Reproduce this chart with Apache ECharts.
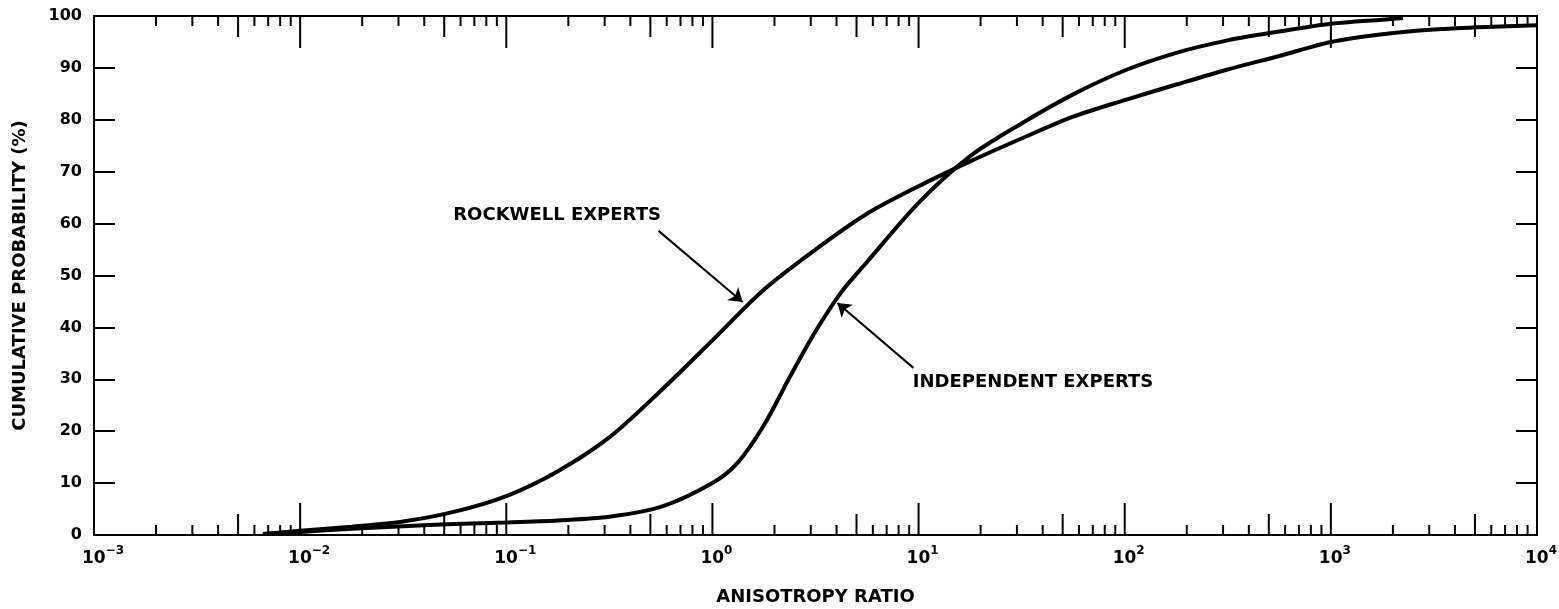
<!DOCTYPE html>
<html>
<head>
<meta charset="utf-8">
<script src="https://cdn.jsdelivr.net/npm/echarts@6/dist/echarts.min.js"></script>
<style>
html,body{margin:0;padding:0;background:#fff;}
#chart{width:1559px;height:609px;}
</style>
</head>
<body>
<div id="chart"></div>
<script>
// ---- data (anisotropy ratio, cumulative probability %) ----
const rockwellX = [0.0066, 0.01, 0.0178, 0.0316, 0.0562, 0.1, 0.178, 0.316, 0.562, 1, 1.78, 3.16, 5.62, 10, 17.8, 31.6, 56.2, 100, 178, 316, 562, 1000, 1780, 3160, 5620, 10000];
const rockwellY = [0.2, 0.8, 1.6, 2.6, 4.5, 7.5, 12.3, 18.8, 27.8, 37.5, 47.3, 55.0, 61.9, 67.2, 72.0, 76.4, 80.6, 83.8, 86.8, 89.7, 92.3, 95.0, 96.5, 97.4, 97.9, 98.2];

const independentX = [0.0066, 0.01, 0.0178, 0.0316, 0.0562, 0.1, 0.178, 0.316, 0.562, 1, 1.33, 1.78, 2.37, 3.16, 4.22, 5.62, 10, 17.8, 31.6, 56.2, 100, 178, 316, 562, 1000, 1780, 2240];
const independentY = [0.2, 0.6, 1.2, 1.7, 2.1, 2.4, 2.8, 3.5, 5.4, 10.0, 14.0, 21.2, 30.4, 39.2, 46.8, 52.6, 64.0, 73.0, 79.3, 84.9, 89.5, 92.9, 95.3, 97.0, 98.5, 99.3, 99.6];

// axis ticks
const xDecades = [-3, -2, -1, 0, 1, 2, 3, 4];
const xMinorMultipliers = [2, 3, 4, 5, 6, 7, 8, 9];
const yTicks = [0, 10, 20, 30, 40, 50, 60, 70, 80, 90, 100];

// annotations
const rockwellLabel = ['ROCKWELL EXPERTS', 0.055, 61.5];
const rockwellArrow = [[0.548, 58.6], [1.40, 44.9]];
const independentLabel = ['INDEPENDENT EXPERTS', 9.33, 29.5];
const independentArrow = [[9.44, 32.2], [4.04, 44.7]];

const FONT = 'DejaVu Sans';

const rockwell = rockwellX.map((x, i) => [x, rockwellY[i]]);
const independent = independentX.map((x, i) => [x, independentY[i]]);

// tick list: [value, kind] kind 2 = decade, 1 = five, 0 = other
const tickData = [];
xDecades.forEach(d => {
  tickData.push([Math.pow(10, d), 2]);
  if (d < 4) xMinorMultipliers.forEach(m => tickData.push([m * Math.pow(10, d), m === 5 ? 1 : 0]));
});

const chart = echarts.init(document.getElementById('chart'), null, {renderer: 'canvas'});

const labelStyle = {color: '#000', fontFamily: FONT, fontWeight: 'bold', fontSize: 18};

chart.setOption({
  animation: false,
  backgroundColor: '#fff',
  grid: {left: 94, right: 22, top: 16, bottom: 74, containLabel: false, outerBoundsMode: 'none',
    show: true, borderColor: '#000', borderWidth: 2, backgroundColor: 'transparent'},
  xAxis: {
    type: 'log', logBase: 10, min: 0.001, max: 10000, splitNumber: 7,
    name: 'ANISOTROPY RATIO', nameLocation: 'middle', nameGap: 53, nameMoveOverlap: false,
    nameTextStyle: {color: '#000', fontFamily: FONT, fontWeight: 'bold', fontSize: 18},
    axisLine: {show: true, onZero: false, lineStyle: {color: '#000', width: 2}},
    axisTick: {show: false},
    splitLine: {show: false},
    axisLabel: {
      margin: 10,
      formatter: v => {
        const e = Math.round(Math.log10(v));
        return (e < 0 ? '{p2|}' : '{p1|}') + '{b|10}{s|' + (e < 0 ? '\u2212' + (-e) : e) + '}';
      },
      rich: {
        p1: {width: 8, lineHeight: 22},
        p2: {width: 18, lineHeight: 22},
        b: {fontSize: 17, fontWeight: 'bold', fontFamily: FONT, color: '#000', lineHeight: 22, verticalAlign: 'bottom'},
        s: {fontSize: 12, fontWeight: 'bold', fontFamily: FONT, color: '#000', lineHeight: 13, verticalAlign: 'top'}
      }
    }
  },
  yAxis: [{
    type: 'value', min: 0, max: 100, interval: 10,
    name: 'CUMULATIVE PROBABILITY (%)', nameLocation: 'middle', nameGap: 65, nameMoveOverlap: false,
    nameTextStyle: {color: '#000', fontFamily: FONT, fontWeight: 'bold', fontSize: 18},
    axisLine: {show: true, lineStyle: {color: '#000', width: 2}},
    axisTick: {show: true, inside: true, length: 21, lineStyle: {color: '#000', width: 2}},
    splitLine: {show: false},
    axisLabel: {margin: 12, color: '#000', fontFamily: FONT, fontWeight: 'bold', fontSize: 16,
      formatter: v => yTicks.indexOf(v) >= 0 ? String(v) : ''}
  }, {
    type: 'value', min: 0, max: 100, interval: 10, position: 'right',
    axisLine: {show: true, lineStyle: {color: '#000', width: 2}},
    axisTick: {show: true, inside: true, length: 21, lineStyle: {color: '#000', width: 2}},
    splitLine: {show: false},
    axisLabel: {show: false}
  }],
  series: [
    {
      type: 'custom', name: 'ticks', clip: false, silent: true,
      data: tickData,
      encode: {x: 0},
      renderItem: (params, api) => {
        const v = api.value(0), kind = api.value(1);
        const b = api.coord([v, 0]), t = api.coord([v, 100]);
        const len = kind === 2 ? 32 : (kind === 1 ? 21 : 10);
        return {type: 'group', children: [
          {type: 'line', shape: {x1: b[0], y1: b[1], x2: b[0], y2: b[1] - len}, style: {stroke: '#000', lineWidth: 2}},
          {type: 'line', shape: {x1: t[0], y1: t[1], x2: t[0], y2: t[1] + len}, style: {stroke: '#000', lineWidth: 2}}
        ]};
      }
    },
    {
      type: 'line', name: 'Rockwell Experts', data: rockwell, smooth: 0.3, symbol: 'none',
      lineStyle: {color: '#000', width: 4}, silent: true,
      markLine: {
        silent: true, symbol: ['none', 'arrow'], symbolSize: 13,
        lineStyle: {color: '#000', width: 2, type: 'solid'}, label: {show: false},
        emphasis: {disabled: true},
        data: [[{coord: rockwellArrow[0]}, {coord: rockwellArrow[1]}]]
      },
      markPoint: {
        silent: true, symbol: 'circle', symbolSize: 1, itemStyle: {color: 'rgba(0,0,0,0)'},
        label: Object.assign({show: true, position: 'right', distance: 0, formatter: rockwellLabel[0]}, labelStyle),
        data: [{coord: [rockwellLabel[1], rockwellLabel[2]]}]
      }
    },
    {
      type: 'line', name: 'Independent Experts', data: independent, smooth: 0.3, symbol: 'none',
      lineStyle: {color: '#000', width: 4}, silent: true,
      markLine: {
        silent: true, symbol: ['none', 'arrow'], symbolSize: 13,
        lineStyle: {color: '#000', width: 2, type: 'solid'}, label: {show: false},
        emphasis: {disabled: true},
        data: [[{coord: independentArrow[0]}, {coord: independentArrow[1]}]]
      },
      markPoint: {
        silent: true, symbol: 'circle', symbolSize: 1, itemStyle: {color: 'rgba(0,0,0,0)'},
        label: Object.assign({show: true, position: 'right', distance: 0, formatter: independentLabel[0]}, labelStyle),
        data: [{coord: [independentLabel[1], independentLabel[2]]}]
      }
    }
  ]
});
</script>
</body>
</html>
